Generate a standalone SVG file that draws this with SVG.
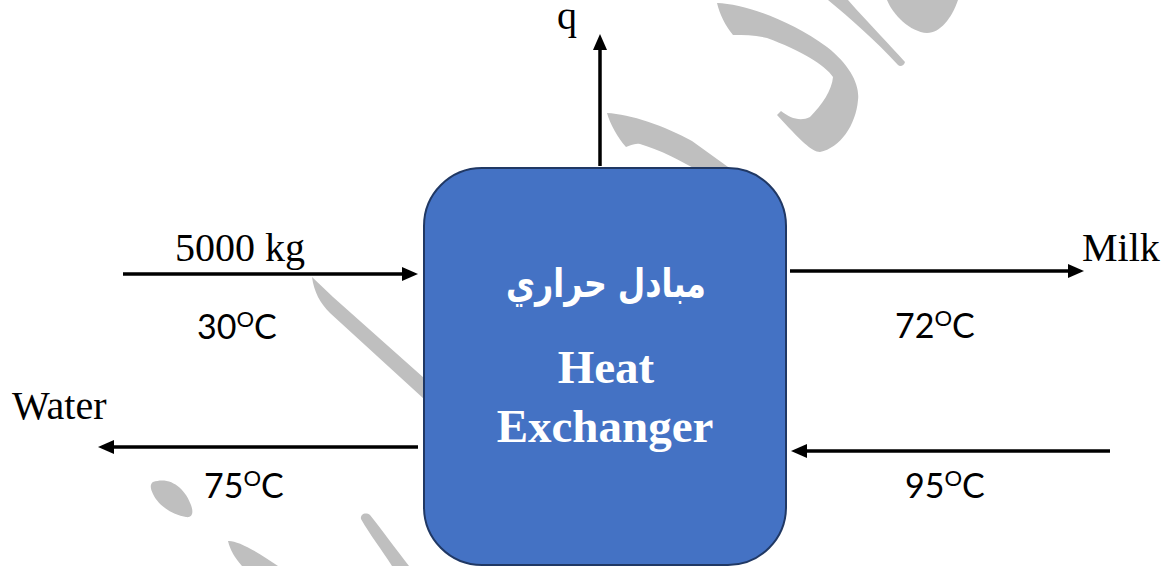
<svg xmlns="http://www.w3.org/2000/svg" width="1175" height="566" viewBox="0 0 1175 566">
  <style>
    .wm { fill: #bfbfbf; }
    .flow { stroke: #000; stroke-width: 3.5; fill: none; marker-end: url(#head); }
    .lbl { font-family: "Liberation Serif", "Times New Roman", serif; font-size: 40px; fill: #000; }
    .temp { font-family: Lato, "Open Sans", "Liberation Sans", sans-serif; font-size: 34px; fill: #000; }
    .sup { font-size: 22px; }
    .inner { font-family: "Liberation Serif", "Times New Roman", serif; font-weight: bold; font-size: 47px; fill: #fff; text-anchor: middle; }
    .ar { font-family: "DejaVu Sans", "Noto Sans", sans-serif; font-weight: bold; font-size: 40px; fill: #fff; text-anchor: middle; }
  </style>
  <defs>
    <marker id="head" markerUnits="userSpaceOnUse" markerWidth="17" markerHeight="16" refX="1" refY="8" orient="auto">
      <path d="M0,1 L16,8 L0,15 Z" fill="#000"/>
    </marker>
  </defs>

  <rect width="1175" height="566" fill="#fff"/>

  <!-- background brush-stroke mark -->
  <g id="watermark">
    <path class="wm" d="M312,277 L333,297 L424,378 L424,399 L330,313 C320,303 314,292 312,277 Z"/>
    <path class="wm" d="M607,113 C630,114 665,126 692,141 L735,172 L700,172 C680,160 660,150 640,144 C634,143 630,146 626,147 C618,138 610,124 607,113 Z"/>
    <path class="wm" d="M717,3 C745,4 790,20 827,47 C850,65 860,85 858,100 C856,125 840,148 820,152 C812,152 800,140 777,115 L781,111 C790,118 800,122 810,117 C822,105 832,90 833,77 C825,65 800,50 767,38 C755,35 745,35 733,35 C725,25 720,15 717,3 Z"/>
    <path class="wm" d="M828,0 L848,0 C870,25 890,45 905,62 C904,66 900,67 898,65 C875,40 850,18 828,0 Z"/>
    <path class="wm" d="M887,0 C893,15 910,32 927,33 C940,33 952,18 958,0 Z"/>
    <path class="wm" d="M153,482 C170,476 185,488 191,505 C194,513 192,518 186,517 C172,515 158,505 153,494 C150,488 150,484 153,482 Z"/>
    <path class="wm" d="M228,541 C236,540 255,550 278,566 L242,566 C235,558 230,550 228,541 Z"/>
    <path class="wm" d="M361,519 C360,514 366,512 370,515 C382,530 395,548 409,566 L392,566 C382,550 370,535 361,519 Z"/>
  </g>

  <!-- heat exchanger unit -->
  <g id="heat-exchanger">
    <rect x="424" y="168" width="362" height="397" rx="58" ry="58" fill="#4472c4" stroke="#203864" stroke-width="2"/>
    <text class="ar" x="606" y="297" direction="rtl" textLength="200" lengthAdjust="spacingAndGlyphs">مبادل حراري</text>
    <text class="inner" x="606" y="383">Heat</text>
    <text class="inner" x="605" y="442">Exchanger</text>
  </g>

  <!-- streams -->
  <g id="connectors">
    <line class="flow" x1="600" y1="166" x2="600" y2="49"/>
    <line class="flow" x1="123" y1="274" x2="403" y2="274"/>
    <line class="flow" x1="790" y1="271" x2="1069" y2="271"/>
    <line class="flow" x1="418" y1="447" x2="113" y2="447"/>
    <line class="flow" x1="1110" y1="451" x2="806" y2="451"/>
  </g>

  <g id="labels">
    <text class="lbl" x="567" y="29" text-anchor="middle">q</text>
    <text class="lbl" x="175" y="261">5000 kg</text>
    <text class="lbl" x="1082" y="261">Milk</text>
    <text class="lbl" x="12" y="419">Water</text>
    <text class="temp" x="197" y="339">30<tspan class="sup" dy="-12">O</tspan><tspan dy="12">C</tspan></text>
    <text class="temp" x="895" y="338">72<tspan class="sup" dy="-12">O</tspan><tspan dy="12">C</tspan></text>
    <text class="temp" x="204" y="498">75<tspan class="sup" dy="-12">O</tspan><tspan dy="12">C</tspan></text>
    <text class="temp" x="905" y="498">95<tspan class="sup" dy="-12">O</tspan><tspan dy="12">C</tspan></text>
  </g>
</svg>
